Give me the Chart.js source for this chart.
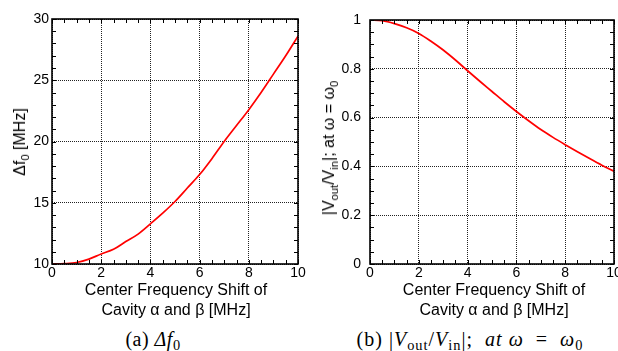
<!DOCTYPE html>
<html>
<head>
<meta charset="utf-8">
<script src="https://cdn.jsdelivr.net/npm/chart.js@4/dist/chart.umd.min.js"></script>
<style>
  html, body { margin:0; padding:0; background:#fff; }
  #wrap { position:relative; width:618px; height:351px; overflow:hidden; background:#fff; }
  .cv { position:absolute; top:0; }
  .ytitle { position:absolute; transform:translate(-50%,-50%) rotate(-90deg); white-space:nowrap;
            font-family:"Liberation Sans", Arial, sans-serif; font-size:16px; color:#000; }
  .xtitle { position:absolute; transform:translateX(-50%); text-align:center; white-space:nowrap;
            font-family:"Liberation Sans", Arial, sans-serif; font-size:16px; line-height:20px; color:#000; }
  .cap { position:absolute; transform:translate(-50%,-50%); white-space:nowrap;
         font-family:"Liberation Serif", "Times New Roman", serif; font-size:20px; color:#000; }
  .sb { font-size:72%; position:relative; top:0.3em; }
  .ytitle .sb { font-size:70%; top:0.35em; }
  i { font-style:italic; }
</style>
</head>
<body>
<div id="wrap">
  <canvas id="c1" class="cv" width="309" height="300" style="left:0px"></canvas>
  <canvas id="c2" class="cv" width="309" height="300" style="left:309px"></canvas>

  <div class="ytitle" style="left:20px; top:142px;">&Delta;f<span class="sb">0</span> [MHz]</div>
  <div class="ytitle" style="left:329px; top:148px;">|V<span class="sb">out</span>/V<span class="sb">in</span>|; at &omega; = &omega;<span class="sb">0</span></div>

  <div class="xtitle" style="left:176px; top:280px;">Center Frequency Shift of<br>Cavity &alpha; and &beta; [MHz]</div>
  <div class="xtitle" style="left:494px; top:280px;">Center Frequency Shift of<br>Cavity &alpha; and &beta; [MHz]</div>

  <div class="cap" style="left:153px; top:339px; letter-spacing:0.5px;">(a) <i>&Delta;f</i><span class="sb">0</span></div>
  <div class="cap" style="left:470px; top:339px; letter-spacing:1px;">(b) |<i>V</i><span class="sb">out</span>/<i>V</i><span class="sb">in</span>|;&nbsp; <i>at</i> <i>&omega;</i> &nbsp;=&nbsp; <i>&omega;</i><span class="sb">0</span></div>
</div>

<script>
// ---- data ----
const shiftMHz = [0, 0.5, 1, 1.5, 2, 2.5, 3, 3.5, 4, 4.5, 5, 5.5, 6, 6.5, 7, 7.5, 8, 8.5, 9, 9.5, 10];
const deltaF0 = [10.0, 10.03, 10.12, 10.4, 10.82, 11.2, 11.83, 12.44, 13.28, 14.15, 15.1, 16.2, 17.3, 18.6, 20.0, 21.3, 22.6, 24.0, 25.5, 27.0, 28.6];
const voutVin = [1.0, 0.997, 0.985, 0.968, 0.945, 0.913, 0.877, 0.836, 0.792, 0.749, 0.707, 0.665, 0.625, 0.587, 0.551, 0.519, 0.489, 0.46, 0.432, 0.405, 0.38];
const xTicksMajor = [0, 2, 4, 6, 8, 10];
const yTicksA = [10, 15, 20, 25, 30];
const yTicksB = [0, 0.2, 0.4, 0.6, 0.8, 1];

const FONT = "'Liberation Sans', Arial, sans-serif";

const frameTicks = {
  id: 'frameTicks',
  afterDraw(chart, args, opts) {
    const { ctx, chartArea: { left, right, top, bottom }, scales: { x, y } } = chart;
    ctx.save();
    ctx.strokeStyle = '#000';
    ctx.lineWidth = 1;
    ctx.beginPath();
    const nx = Math.round((x.max - x.min) / opts.xMinor);
    for (let i = 0; i <= nx; i++) {
      const v = x.min + i * opts.xMinor;
      const px = Math.round(x.getPixelForValue(v)) + 0.5;
      const len = 4;
      ctx.moveTo(px, bottom); ctx.lineTo(px, bottom - len);
      ctx.moveTo(px, top); ctx.lineTo(px, top + len);
    }
    const ny = Math.round((y.max - y.min) / opts.yMinor);
    for (let i = 0; i <= ny; i++) {
      const v = y.min + i * opts.yMinor;
      const py = Math.round(y.getPixelForValue(v)) + 0.5;
      const len = 4;
      ctx.moveTo(left, py); ctx.lineTo(left + len, py);
      ctx.moveTo(right, py); ctx.lineTo(right - len, py);
    }
    ctx.stroke();
    ctx.lineWidth = 1.6;
    ctx.strokeRect(left, top, right - left, bottom - top);
    ctx.restore();
  }
};

function makeChart(id, values, yMin, yMax, yTicks, yWidth, yPad, pad, yMinor) {
  return new Chart(document.getElementById(id), {
    type: 'line',
    data: {
      datasets: [{
        data: shiftMHz.map((s, i) => ({ x: s, y: values[i] })),
        borderColor: '#ff0000',
        borderWidth: 1.7,
        pointRadius: 0,
        cubicInterpolationMode: 'monotone',
        fill: false
      }]
    },
    options: {
      responsive: false,
      devicePixelRatio: 1,
      animation: false,
      events: [],
      layout: { padding: pad },
      plugins: { legend: { display: false }, tooltip: { enabled: false },
                 frameTicks: { xMinor: 0.5, yMinor: yMinor } },
      scales: {
        x: {
          type: 'linear', min: 0, max: 10,
          afterBuildTicks: s => { s.ticks = xTicksMajor.map(v => ({ value: v })); },
          afterFit: s => { s.height = 36; s.paddingLeft = 0; s.paddingRight = 0; },
          ticks: { font: { family: FONT, size: 14 }, color: '#000', padding: 1, maxRotation: 0, autoSkip: false,
                   callback: v => String(v) },
          grid: { color: '#222', lineWidth: 1, drawTicks: false },
          border: { display: false, dash: [1, 1] }
        },
        y: {
          type: 'linear', min: yMin, max: yMax,
          afterBuildTicks: s => { s.ticks = yTicks.map(v => ({ value: v })); },
          afterFit: s => { s.width = yWidth; s.paddingTop = 0; s.paddingBottom = 0; },
          ticks: { font: { family: FONT, size: 14 }, color: '#000', padding: yPad, autoSkip: false,
                   callback: v => String(v) },
          grid: { color: '#222', lineWidth: 1, drawTicks: false },
          border: { display: false, dash: [1, 1] }
        }
      }
    },
    plugins: [frameTicks]
  });
}

makeChart('c1', deltaF0, 10, 30, yTicksA, 52, 3, { top: 19, right: 11, left: 0, bottom: 0 }, 1);
makeChart('c2', voutVin, 0, 1, yTicksB, 61, 9, { top: 20, right: 4, left: 0, bottom: 0 }, 0.05);
</script>
</body>
</html>
